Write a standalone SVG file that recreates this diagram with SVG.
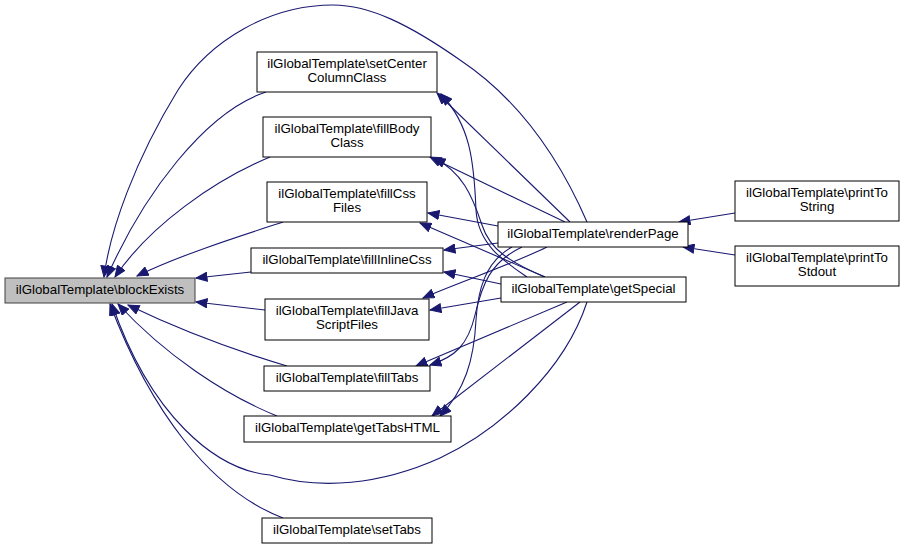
<svg xmlns="http://www.w3.org/2000/svg" width="904" height="549" viewBox="0 0 904 549">
<style>
.n rect{fill:#fff;stroke:#000;stroke-width:1}
.n.h rect{fill:#bfbfbf;stroke:#404040}
.n text{font-family:"Liberation Sans",Arial,sans-serif;font-size:13.3px;text-anchor:middle;fill:#000}
.e path{fill:none;stroke:#191970;stroke-width:1.1;marker-end:url(#ah)}
</style>
<defs>
<marker id="ah" markerUnits="userSpaceOnUse" markerWidth="13" markerHeight="10" refX="11.5" refY="5" orient="auto">
<path d="M0.5,0.5 L11.5,5 L0.5,9.5 z" fill="#191970" stroke="#191970" stroke-width="1"/>
</marker>
</defs>
<rect width="904" height="549" fill="#fff"/>
<g id="connectors" class="e">
<path d="M266,92 C205,112 143,195 107,277"/>
<path d="M270,157 C215,180 150,225 115,277"/>
<path d="M283,222 C240,236 180,255 137,276"/>
<path d="M587,222 C560,160 520,100 460,60 C410,25 370,5 333,5 C270,5 210,40 178,90 C135,160 110,230 104,277"/>
<path d="M251,272 L196,278"/>
<path d="M265,310 L196,302"/>
<path d="M287,366 C240,352 180,330 128,305"/>
<path d="M277,416 C225,395 165,355 118,304"/>
<path d="M283,518 C210,490 150,410 110,304"/>
<path d="M587,302 C565,370 500,430 440,458 C380,485 320,490 270,475 C215,470 150,415 112,304"/>
<path d="M570,222 L437,93"/>
<path d="M565,222 L430,157"/>
<path d="M527,277 C505,262 478,245 476,210 C474,160 470,125 441,94"/>
<path d="M545,277 C510,262 490,250 482,225 C472,195 462,172 434,158"/>
<path d="M498,226 L428,213"/>
<path d="M545,277 L420,223"/>
<path d="M498,243 L444,250"/>
<path d="M501,284 L444,272"/>
<path d="M547,247 C510,265 460,282 423,298"/>
<path d="M501,298 L430,310"/>
<path d="M522,247 C490,262 482,285 475,315 C468,345 455,357 430,365"/>
<path d="M567,302 L416,366"/>
<path d="M512,247 C485,262 478,290 476,320 C474,360 465,390 440,416"/>
<path d="M580,302 L432,416"/>
<path d="M735,213 L679,222"/>
<path d="M735,255 L683,247"/>
</g>
<g id="blockExists" class="n h"><rect x="5" y="278" width="190" height="25"/><text x="100" y="294">ilGlobalTemplate\blockExists</text></g>
<g id="setCenterColumnClass" class="n"><rect x="257" y="52" width="180" height="40"/><text x="347" y="68">ilGlobalTemplate\setCenter</text><text x="347" y="82">ColumnClass</text></g>
<g id="fillBodyClass" class="n"><rect x="263" y="117" width="168" height="40"/><text x="347" y="133">ilGlobalTemplate\fillBody</text><text x="347" y="147">Class</text></g>
<g id="fillCssFiles" class="n"><rect x="267" y="182" width="160" height="40"/><text x="347" y="198">ilGlobalTemplate\fillCss</text><text x="347" y="212">Files</text></g>
<g id="fillInlineCss" class="n"><rect x="251" y="248" width="192" height="25"/><text x="347" y="264">ilGlobalTemplate\fillInlineCss</text></g>
<g id="fillJavaScriptFiles" class="n"><rect x="265" y="299" width="164" height="41"/><text x="347" y="315">ilGlobalTemplate\fillJava</text><text x="347" y="329">ScriptFiles</text></g>
<g id="fillTabs" class="n"><rect x="264" y="366" width="166" height="25"/><text x="347" y="382">ilGlobalTemplate\fillTabs</text></g>
<g id="getTabsHTML" class="n"><rect x="244" y="416" width="207" height="26"/><text x="347.5" y="432">ilGlobalTemplate\getTabsHTML</text></g>
<g id="setTabs" class="n"><rect x="262" y="518" width="170" height="25"/><text x="347" y="534">ilGlobalTemplate\setTabs</text></g>
<g id="renderPage" class="n"><rect x="498" y="222" width="190" height="25"/><text x="593" y="238">ilGlobalTemplate\renderPage</text></g>
<g id="getSpecial" class="n"><rect x="501" y="277" width="185" height="25"/><text x="593.5" y="293">ilGlobalTemplate\getSpecial</text></g>
<g id="printToString" class="n"><rect x="735" y="181" width="164" height="40"/><text x="817" y="197">ilGlobalTemplate\printTo</text><text x="817" y="211">String</text></g>
<g id="printToStdout" class="n"><rect x="735" y="246" width="164" height="40"/><text x="817" y="262">ilGlobalTemplate\printTo</text><text x="817" y="276">Stdout</text></g>
</svg>
